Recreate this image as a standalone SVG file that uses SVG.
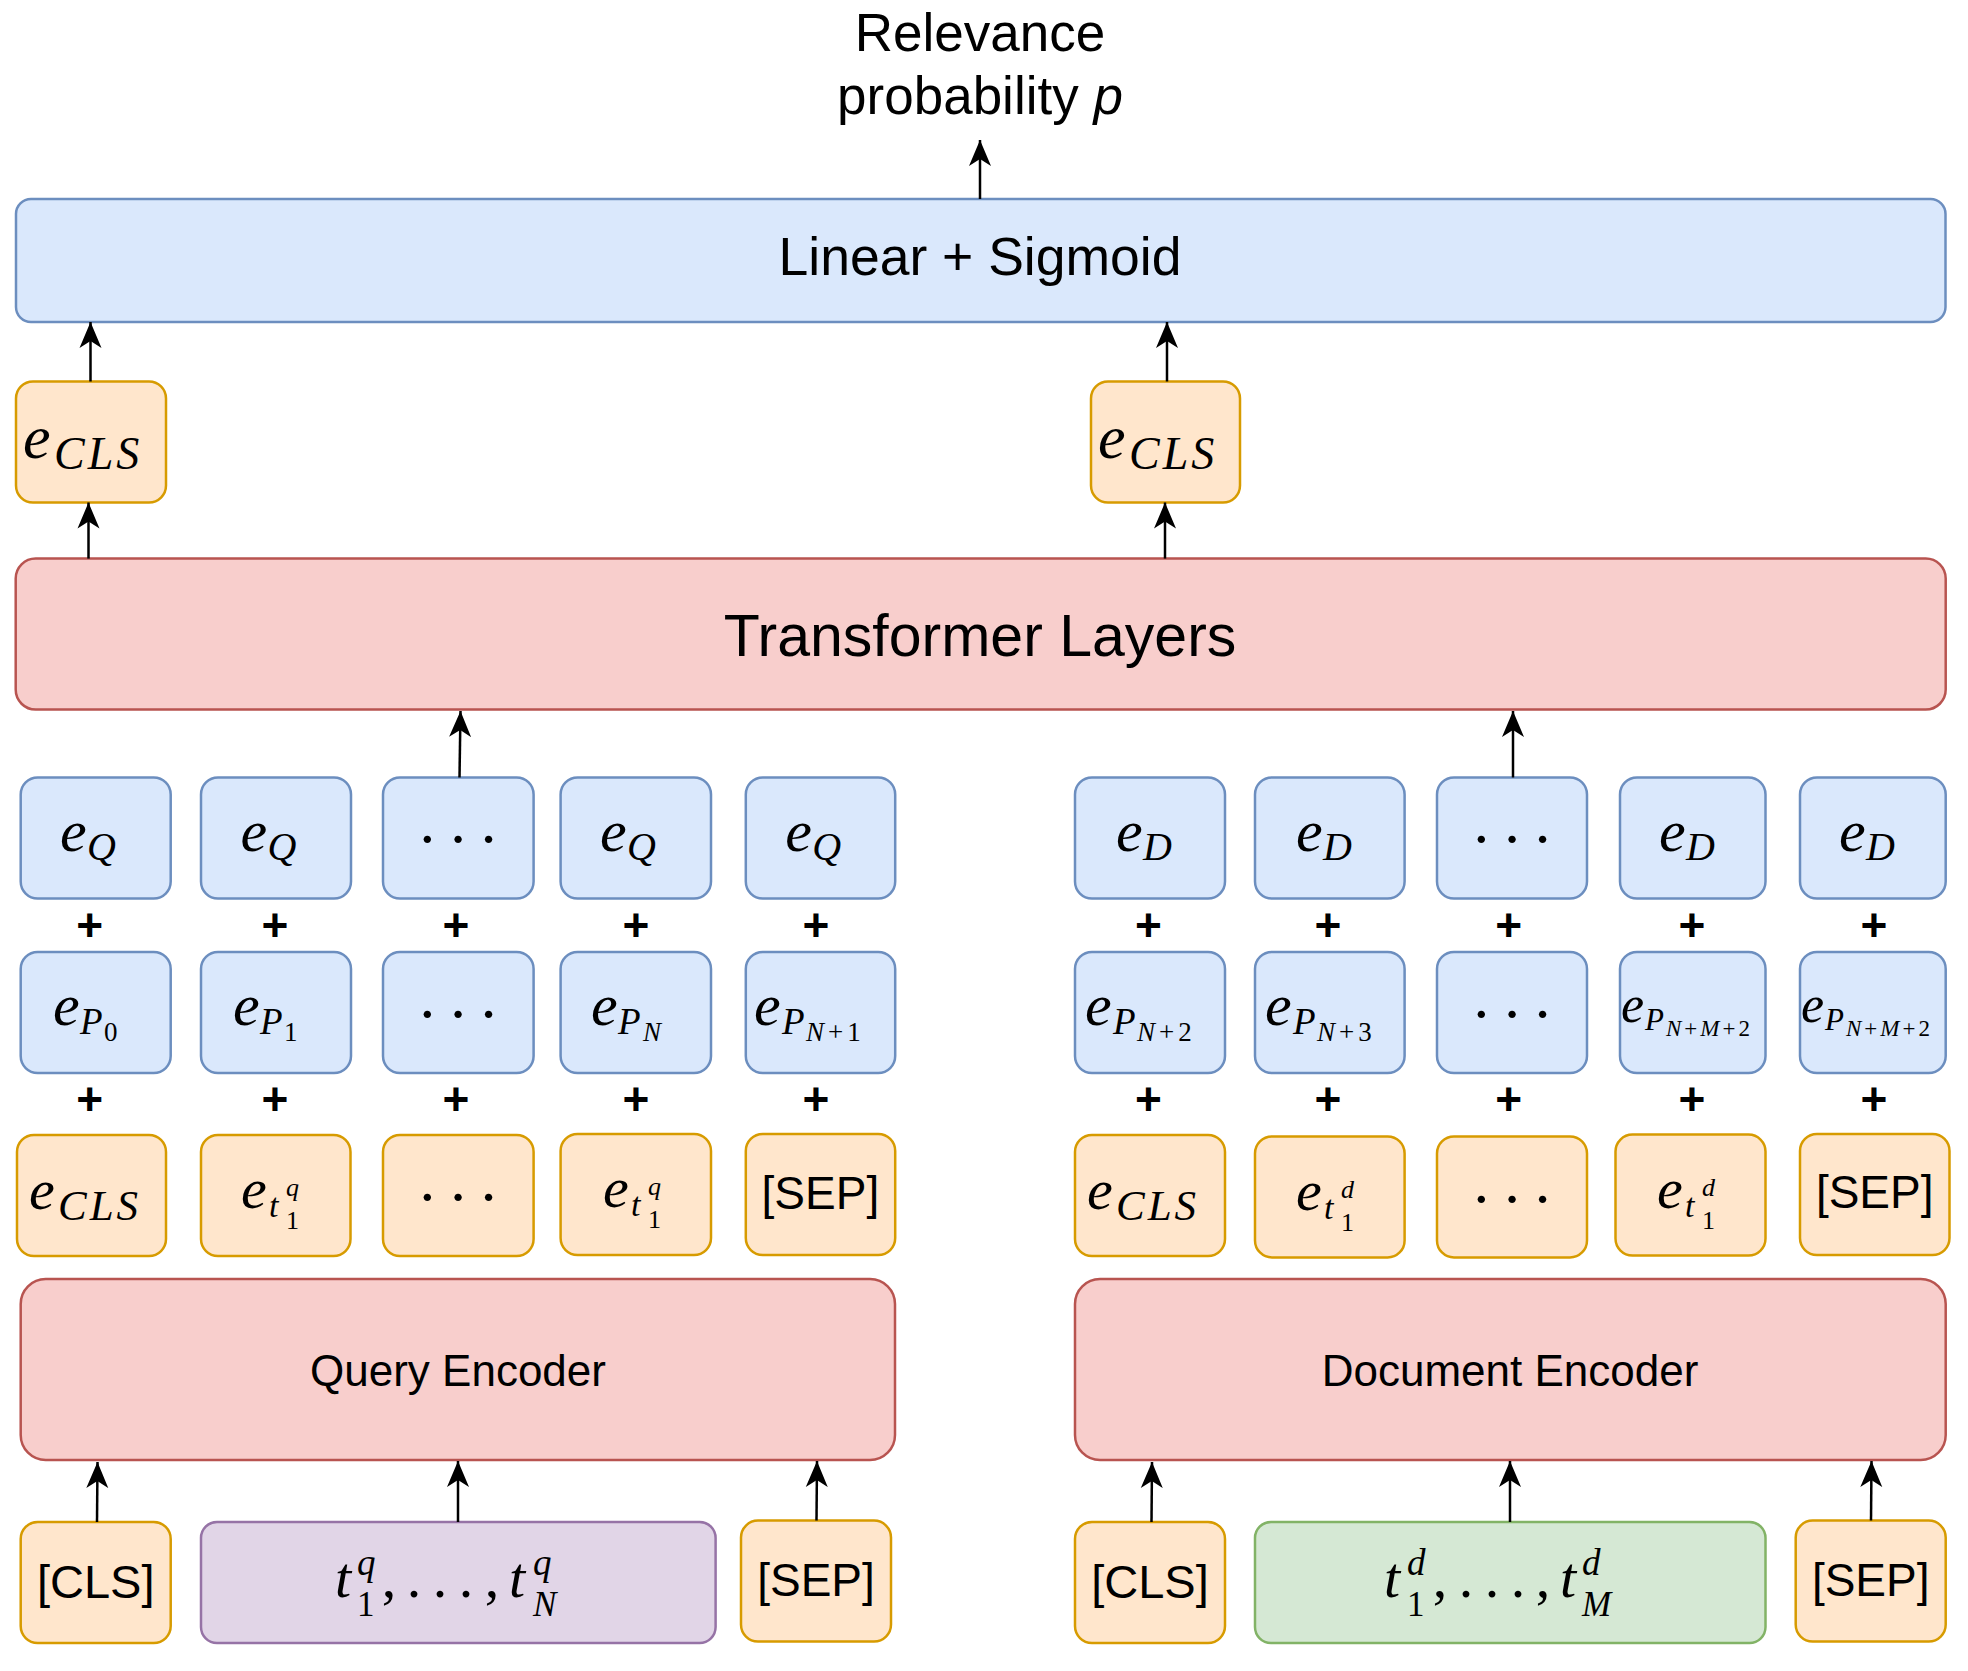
<svg xmlns="http://www.w3.org/2000/svg" width="1968" height="1671" viewBox="0 0 1968 1671">
<style>
.blue{fill:#dae8fc;stroke:#6c8ebf;stroke-width:2.5}
.red{fill:#f8cecc;stroke:#b85450;stroke-width:2.5}
.org{fill:#ffe6cc;stroke:#d79b00;stroke-width:2.5}
.pur{fill:#e1d5e7;stroke:#9673a6;stroke-width:2.5}
.grn{fill:#d5e8d4;stroke:#82b366;stroke-width:2.5}
.sans{font-family:"Liberation Sans",Arial,sans-serif;fill:#000}
.mi{font-family:"Liberation Serif","Times New Roman",serif;font-style:italic;fill:#000}
.mn{font-style:normal}
.dots{font-family:"Liberation Serif","Times New Roman",serif;font-size:62px;letter-spacing:10px;text-anchor:middle;fill:#000}
.plus{font-family:"Liberation Sans",Arial,sans-serif;font-weight:bold;font-size:46px;text-anchor:middle;fill:#000}
.c{text-anchor:middle}
.conn line{stroke:#000;stroke-width:2.5;marker-end:url(#ah)}
</style>
<defs>
<marker id="ah" markerUnits="userSpaceOnUse" markerWidth="28" markerHeight="24" refX="26" refY="12" orient="auto" viewBox="0 0 28 24">
<path d="M0,1 L26,12 L0,23 L7,12 Z" fill="#000"/>
</marker>
</defs>
<rect width="1968" height="1671" fill="#fff"/>

<g id="output">
<text class="sans c" font-size="53" x="980" y="51">Relevance</text>
<text class="sans c" font-size="53" x="980" y="114">probability <tspan font-style="italic">p</tspan></text>
</g>

<g id="linear">
<rect class="blue" x="16" y="199" width="1929.5" height="123" rx="15"/>
<text class="sans c" font-size="53.5" x="980" y="275">Linear + Sigmoid</text>
</g>

<g id="cls_out_q">
<rect class="org" x="16" y="381.5" width="150" height="121" rx="17"/>
<text class="mi"><tspan x="23" y="458" font-size="62">e</tspan><tspan x="54" y="469" font-size="46" letter-spacing="3">CLS</tspan></text>
</g>
<g id="cls_out_d">
<rect class="org" x="1091" y="381.5" width="149" height="121" rx="17"/>
<text class="mi"><tspan x="1098" y="458" font-size="62">e</tspan><tspan x="1129" y="469" font-size="46" letter-spacing="3">CLS</tspan></text>
</g>

<g id="transformer">
<rect class="red" x="15.7" y="558.6" width="1930" height="151" rx="20"/>
<text class="sans c" font-size="59" x="980" y="656">Transformer Layers</text>
</g>

<!-- Row 1: segment embeddings -->
<g id="eq1"><rect class="blue" x="20.7" y="777.5" width="150" height="121" rx="17"/>
<text class="mi"><tspan x="60" y="851" font-size="60">e</tspan><tspan x="87" y="860" font-size="40">Q</tspan></text></g>
<g id="eq2"><rect class="blue" x="201" y="777.5" width="150" height="121" rx="17"/>
<text class="mi"><tspan x="240.5" y="851" font-size="60">e</tspan><tspan x="267.5" y="860" font-size="40">Q</tspan></text></g>
<g id="eq3"><rect class="blue" x="383" y="777.5" width="150.6" height="121" rx="17"/>
<text class="dots" x="463" y="860">···</text></g>
<g id="eq4"><rect class="blue" x="560.6" y="777.5" width="150.4" height="121" rx="17"/>
<text class="mi"><tspan x="600" y="851" font-size="60">e</tspan><tspan x="627" y="860" font-size="40">Q</tspan></text></g>
<g id="eq5"><rect class="blue" x="745.8" y="777.5" width="149.4" height="121" rx="17"/>
<text class="mi"><tspan x="785.3" y="851" font-size="60">e</tspan><tspan x="812.3" y="860" font-size="40">Q</tspan></text></g>

<g id="ed1"><rect class="blue" x="1075" y="777.5" width="150" height="121" rx="17"/>
<text class="mi"><tspan x="1116" y="851" font-size="60">e</tspan><tspan x="1143" y="860" font-size="40">D</tspan></text></g>
<g id="ed2"><rect class="blue" x="1255" y="777.5" width="149.6" height="121" rx="17"/>
<text class="mi"><tspan x="1296" y="851" font-size="60">e</tspan><tspan x="1323" y="860" font-size="40">D</tspan></text></g>
<g id="ed3"><rect class="blue" x="1437" y="777.5" width="150" height="121" rx="17"/>
<text class="dots" x="1517" y="860">···</text></g>
<g id="ed4"><rect class="blue" x="1620" y="777.5" width="145.5" height="121" rx="17"/>
<text class="mi"><tspan x="1659" y="851" font-size="60">e</tspan><tspan x="1686" y="860" font-size="40">D</tspan></text></g>
<g id="ed5"><rect class="blue" x="1800" y="777.5" width="145.7" height="121" rx="17"/>
<text class="mi"><tspan x="1839" y="851" font-size="60">e</tspan><tspan x="1866" y="860" font-size="40">D</tspan></text></g>

<!-- Row 2: position embeddings -->
<g id="ep1"><rect class="blue" x="20.7" y="952" width="150" height="121" rx="17"/>
<text class="mi"><tspan x="53" y="1025" font-size="60">e</tspan><tspan x="80" y="1034" font-size="37">P</tspan><tspan class="mn" x="104" y="1041" font-size="27">0</tspan></text></g>
<g id="ep2"><rect class="blue" x="201" y="952" width="150" height="121" rx="17"/>
<text class="mi"><tspan x="233" y="1025" font-size="60">e</tspan><tspan x="260" y="1034" font-size="37">P</tspan><tspan class="mn" x="284" y="1041" font-size="27">1</tspan></text></g>
<g id="ep3"><rect class="blue" x="383" y="952" width="150.6" height="121" rx="17"/>
<text class="dots" x="463" y="1034.5">···</text></g>
<g id="ep4"><rect class="blue" x="560.6" y="952" width="150.4" height="121" rx="17"/>
<text class="mi"><tspan x="591" y="1025" font-size="60">e</tspan><tspan x="618" y="1034" font-size="37">P</tspan><tspan x="643" y="1041" font-size="27">N</tspan></text></g>
<g id="ep5"><rect class="blue" x="745.8" y="952" width="149.4" height="121" rx="17"/>
<text class="mi"><tspan x="754" y="1025" font-size="60">e</tspan><tspan x="782" y="1034" font-size="37">P</tspan><tspan x="806" y="1041" font-size="27">N<tspan class="mn" dx="4">+</tspan><tspan class="mn" dx="4">1</tspan></tspan></text></g>

<g id="ep6"><rect class="blue" x="1075" y="952" width="150" height="121" rx="17"/>
<text class="mi"><tspan x="1085" y="1025" font-size="60">e</tspan><tspan x="1113" y="1034" font-size="37">P</tspan><tspan x="1137" y="1041" font-size="27">N<tspan class="mn" dx="4">+</tspan><tspan class="mn" dx="4">2</tspan></tspan></text></g>
<g id="ep7"><rect class="blue" x="1255" y="952" width="149.6" height="121" rx="17"/>
<text class="mi"><tspan x="1265" y="1025" font-size="60">e</tspan><tspan x="1293" y="1034" font-size="37">P</tspan><tspan x="1317" y="1041" font-size="27">N<tspan class="mn" dx="4">+</tspan><tspan class="mn" dx="4">3</tspan></tspan></text></g>
<g id="ep8"><rect class="blue" x="1437" y="952" width="150" height="121" rx="17"/>
<text class="dots" x="1517" y="1034.5">···</text></g>
<g id="ep9"><rect class="blue" x="1620" y="952" width="145.5" height="121" rx="17"/>
<text class="mi"><tspan x="1621" y="1021.7" font-size="52">e</tspan><tspan x="1645" y="1030" font-size="31">P</tspan><tspan x="1666" y="1036" font-size="23">N<tspan class="mn" dx="3">+</tspan><tspan dx="3">M</tspan><tspan class="mn" dx="3">+</tspan><tspan class="mn" dx="3">2</tspan></tspan></text></g>
<g id="ep10"><rect class="blue" x="1800" y="952" width="145.7" height="121" rx="17"/>
<text class="mi"><tspan x="1801" y="1021.7" font-size="52">e</tspan><tspan x="1825" y="1030" font-size="31">P</tspan><tspan x="1846" y="1036" font-size="23">N<tspan class="mn" dx="3">+</tspan><tspan dx="3">M</tspan><tspan class="mn" dx="3">+</tspan><tspan class="mn" dx="3">2</tspan></tspan></text></g>

<!-- plus signs -->
<g id="plus_signs">
<text class="plus" x="89.8" y="941">+</text><text class="plus" x="275" y="941">+</text><text class="plus" x="456" y="941">+</text><text class="plus" x="636" y="941">+</text><text class="plus" x="816" y="941">+</text>
<text class="plus" x="1148.5" y="941">+</text><text class="plus" x="1328" y="941">+</text><text class="plus" x="1508.6" y="941">+</text><text class="plus" x="1692" y="941">+</text><text class="plus" x="1874" y="941">+</text>
<text class="plus" x="89.8" y="1115">+</text><text class="plus" x="275" y="1115">+</text><text class="plus" x="456" y="1115">+</text><text class="plus" x="636" y="1115">+</text><text class="plus" x="816" y="1115">+</text>
<text class="plus" x="1148.5" y="1115">+</text><text class="plus" x="1328" y="1115">+</text><text class="plus" x="1508.6" y="1115">+</text><text class="plus" x="1692" y="1115">+</text><text class="plus" x="1874" y="1115">+</text>
</g>

<!-- Row 3: token embeddings -->
<g id="et1"><rect class="org" x="17" y="1135" width="149" height="121" rx="17"/>
<text class="mi"><tspan x="29" y="1209" font-size="58">e</tspan><tspan x="58" y="1220" font-size="43" letter-spacing="3">CLS</tspan></text></g>
<g id="et2"><rect class="org" x="201" y="1135" width="149.5" height="121" rx="17"/>
<text class="mi"><tspan x="241" y="1208" font-size="58">e</tspan><tspan x="269" y="1217" font-size="34">t</tspan><tspan x="286" y="1196" font-size="26">q</tspan><tspan class="mn" x="286" y="1229" font-size="26">1</tspan></text></g>
<g id="et3"><rect class="org" x="383" y="1135" width="150.6" height="121" rx="17"/>
<text class="dots" x="463" y="1218">···</text></g>
<g id="et4"><rect class="org" x="560.6" y="1134" width="150.4" height="121" rx="17"/>
<text class="mi"><tspan x="603" y="1207" font-size="58">e</tspan><tspan x="631" y="1216" font-size="34">t</tspan><tspan x="648" y="1195" font-size="26">q</tspan><tspan class="mn" x="648" y="1228" font-size="26">1</tspan></text></g>
<g id="et5"><rect class="org" x="745.8" y="1134" width="149.4" height="121" rx="17"/>
<text class="sans c" font-size="46" x="820.4" y="1209">[SEP]</text></g>

<g id="et6"><rect class="org" x="1075" y="1135" width="150" height="121" rx="17"/>
<text class="mi"><tspan x="1087" y="1209" font-size="58">e</tspan><tspan x="1116" y="1220" font-size="43" letter-spacing="3">CLS</tspan></text></g>
<g id="et7"><rect class="org" x="1255" y="1136.4" width="149.6" height="121" rx="17"/>
<text class="mi"><tspan x="1296" y="1209.5" font-size="58">e</tspan><tspan x="1324" y="1218.5" font-size="34">t</tspan><tspan x="1341" y="1197.5" font-size="26">d</tspan><tspan class="mn" x="1341" y="1230.5" font-size="26">1</tspan></text></g>
<g id="et8"><rect class="org" x="1437" y="1136.4" width="150" height="121" rx="17"/>
<text class="dots" x="1517" y="1219.5">···</text></g>
<g id="et9"><rect class="org" x="1615.5" y="1134.6" width="150" height="121" rx="17"/>
<text class="mi"><tspan x="1657" y="1207.5" font-size="58">e</tspan><tspan x="1685" y="1216.5" font-size="34">t</tspan><tspan x="1702" y="1195.5" font-size="26">d</tspan><tspan class="mn" x="1702" y="1228.5" font-size="26">1</tspan></text></g>
<g id="et10"><rect class="org" x="1800" y="1134" width="149.5" height="121" rx="17"/>
<text class="sans c" font-size="46" x="1874.7" y="1208">[SEP]</text></g>

<!-- Encoders -->
<g id="query_encoder"><rect class="red" x="20.7" y="1279" width="874.3" height="181" rx="25"/>
<text class="sans c" font-size="44" x="458" y="1386">Query Encoder</text></g>
<g id="document_encoder"><rect class="red" x="1075" y="1279" width="870.7" height="181" rx="25"/>
<text class="sans c" font-size="44" x="1510" y="1386">Document Encoder</text></g>

<!-- Inputs -->
<g id="q_cls"><rect class="org" x="20.7" y="1522" width="150" height="121" rx="17"/>
<text class="sans c" font-size="47" x="95.7" y="1598">[CLS]</text></g>
<g id="q_tokens"><rect class="pur" x="201" y="1522" width="514.6" height="121" rx="16"/>
<text class="mi"><tspan x="335" y="1597" font-size="58">t</tspan><tspan x="357" y="1575" font-size="37">q</tspan><tspan class="mn" x="357" y="1616" font-size="35">1</tspan><tspan class="mn c" x="389" y="1597" font-size="58">,</tspan><tspan class="mn c" x="414" y="1597" font-size="58">.</tspan><tspan class="mn c" x="440" y="1597" font-size="58">.</tspan><tspan class="mn c" x="466" y="1597" font-size="58">.</tspan><tspan class="mn c" x="492" y="1597" font-size="58">,</tspan><tspan x="509" y="1597" font-size="58">t</tspan><tspan x="533" y="1575" font-size="37">q</tspan><tspan x="533" y="1616" font-size="35">N</tspan></text></g>
<g id="q_sep"><rect class="org" x="741" y="1520.6" width="150" height="121" rx="17"/>
<text class="sans c" font-size="46" x="816" y="1596">[SEP]</text></g>

<g id="d_cls"><rect class="org" x="1075" y="1522" width="150" height="121" rx="17"/>
<text class="sans c" font-size="47" x="1150" y="1598">[CLS]</text></g>
<g id="d_tokens"><rect class="grn" x="1255" y="1522" width="510.5" height="121" rx="16"/>
<text class="mi"><tspan x="1384" y="1597" font-size="58">t</tspan><tspan x="1407" y="1575" font-size="37">d</tspan><tspan class="mn" x="1407" y="1616" font-size="35">1</tspan><tspan class="mn c" x="1440" y="1597" font-size="58">,</tspan><tspan class="mn c" x="1466" y="1597" font-size="58">.</tspan><tspan class="mn c" x="1492" y="1597" font-size="58">.</tspan><tspan class="mn c" x="1518" y="1597" font-size="58">.</tspan><tspan class="mn c" x="1543" y="1597" font-size="58">,</tspan><tspan x="1560" y="1597" font-size="58">t</tspan><tspan x="1582" y="1575" font-size="37">d</tspan><tspan x="1582" y="1616" font-size="35">M</tspan></text></g>
<g id="d_sep"><rect class="org" x="1795.7" y="1520.6" width="150" height="121" rx="17"/>
<text class="sans c" font-size="46" x="1870.7" y="1596">[SEP]</text></g>

<g id="connectors" class="conn">
<line x1="980" y1="199" x2="980" y2="140"/>
<line x1="90.5" y1="381.5" x2="90.5" y2="322"/>
<line x1="1167" y1="381.5" x2="1167" y2="322"/>
<line x1="88.5" y1="558.6" x2="88.5" y2="502.5"/>
<line x1="1165" y1="558.6" x2="1165" y2="502.5"/>
<line x1="459.5" y1="777.5" x2="460.5" y2="711"/>
<line x1="1513" y1="777.5" x2="1513" y2="711"/>
<line x1="97" y1="1522" x2="97.5" y2="1462"/>
<line x1="458" y1="1522" x2="458" y2="1461"/>
<line x1="816.5" y1="1520.6" x2="817" y2="1461"/>
<line x1="1151.5" y1="1522" x2="1152" y2="1462"/>
<line x1="1510" y1="1522" x2="1510" y2="1461"/>
<line x1="1871" y1="1520.6" x2="1871.5" y2="1461"/>
</g>
</svg>
